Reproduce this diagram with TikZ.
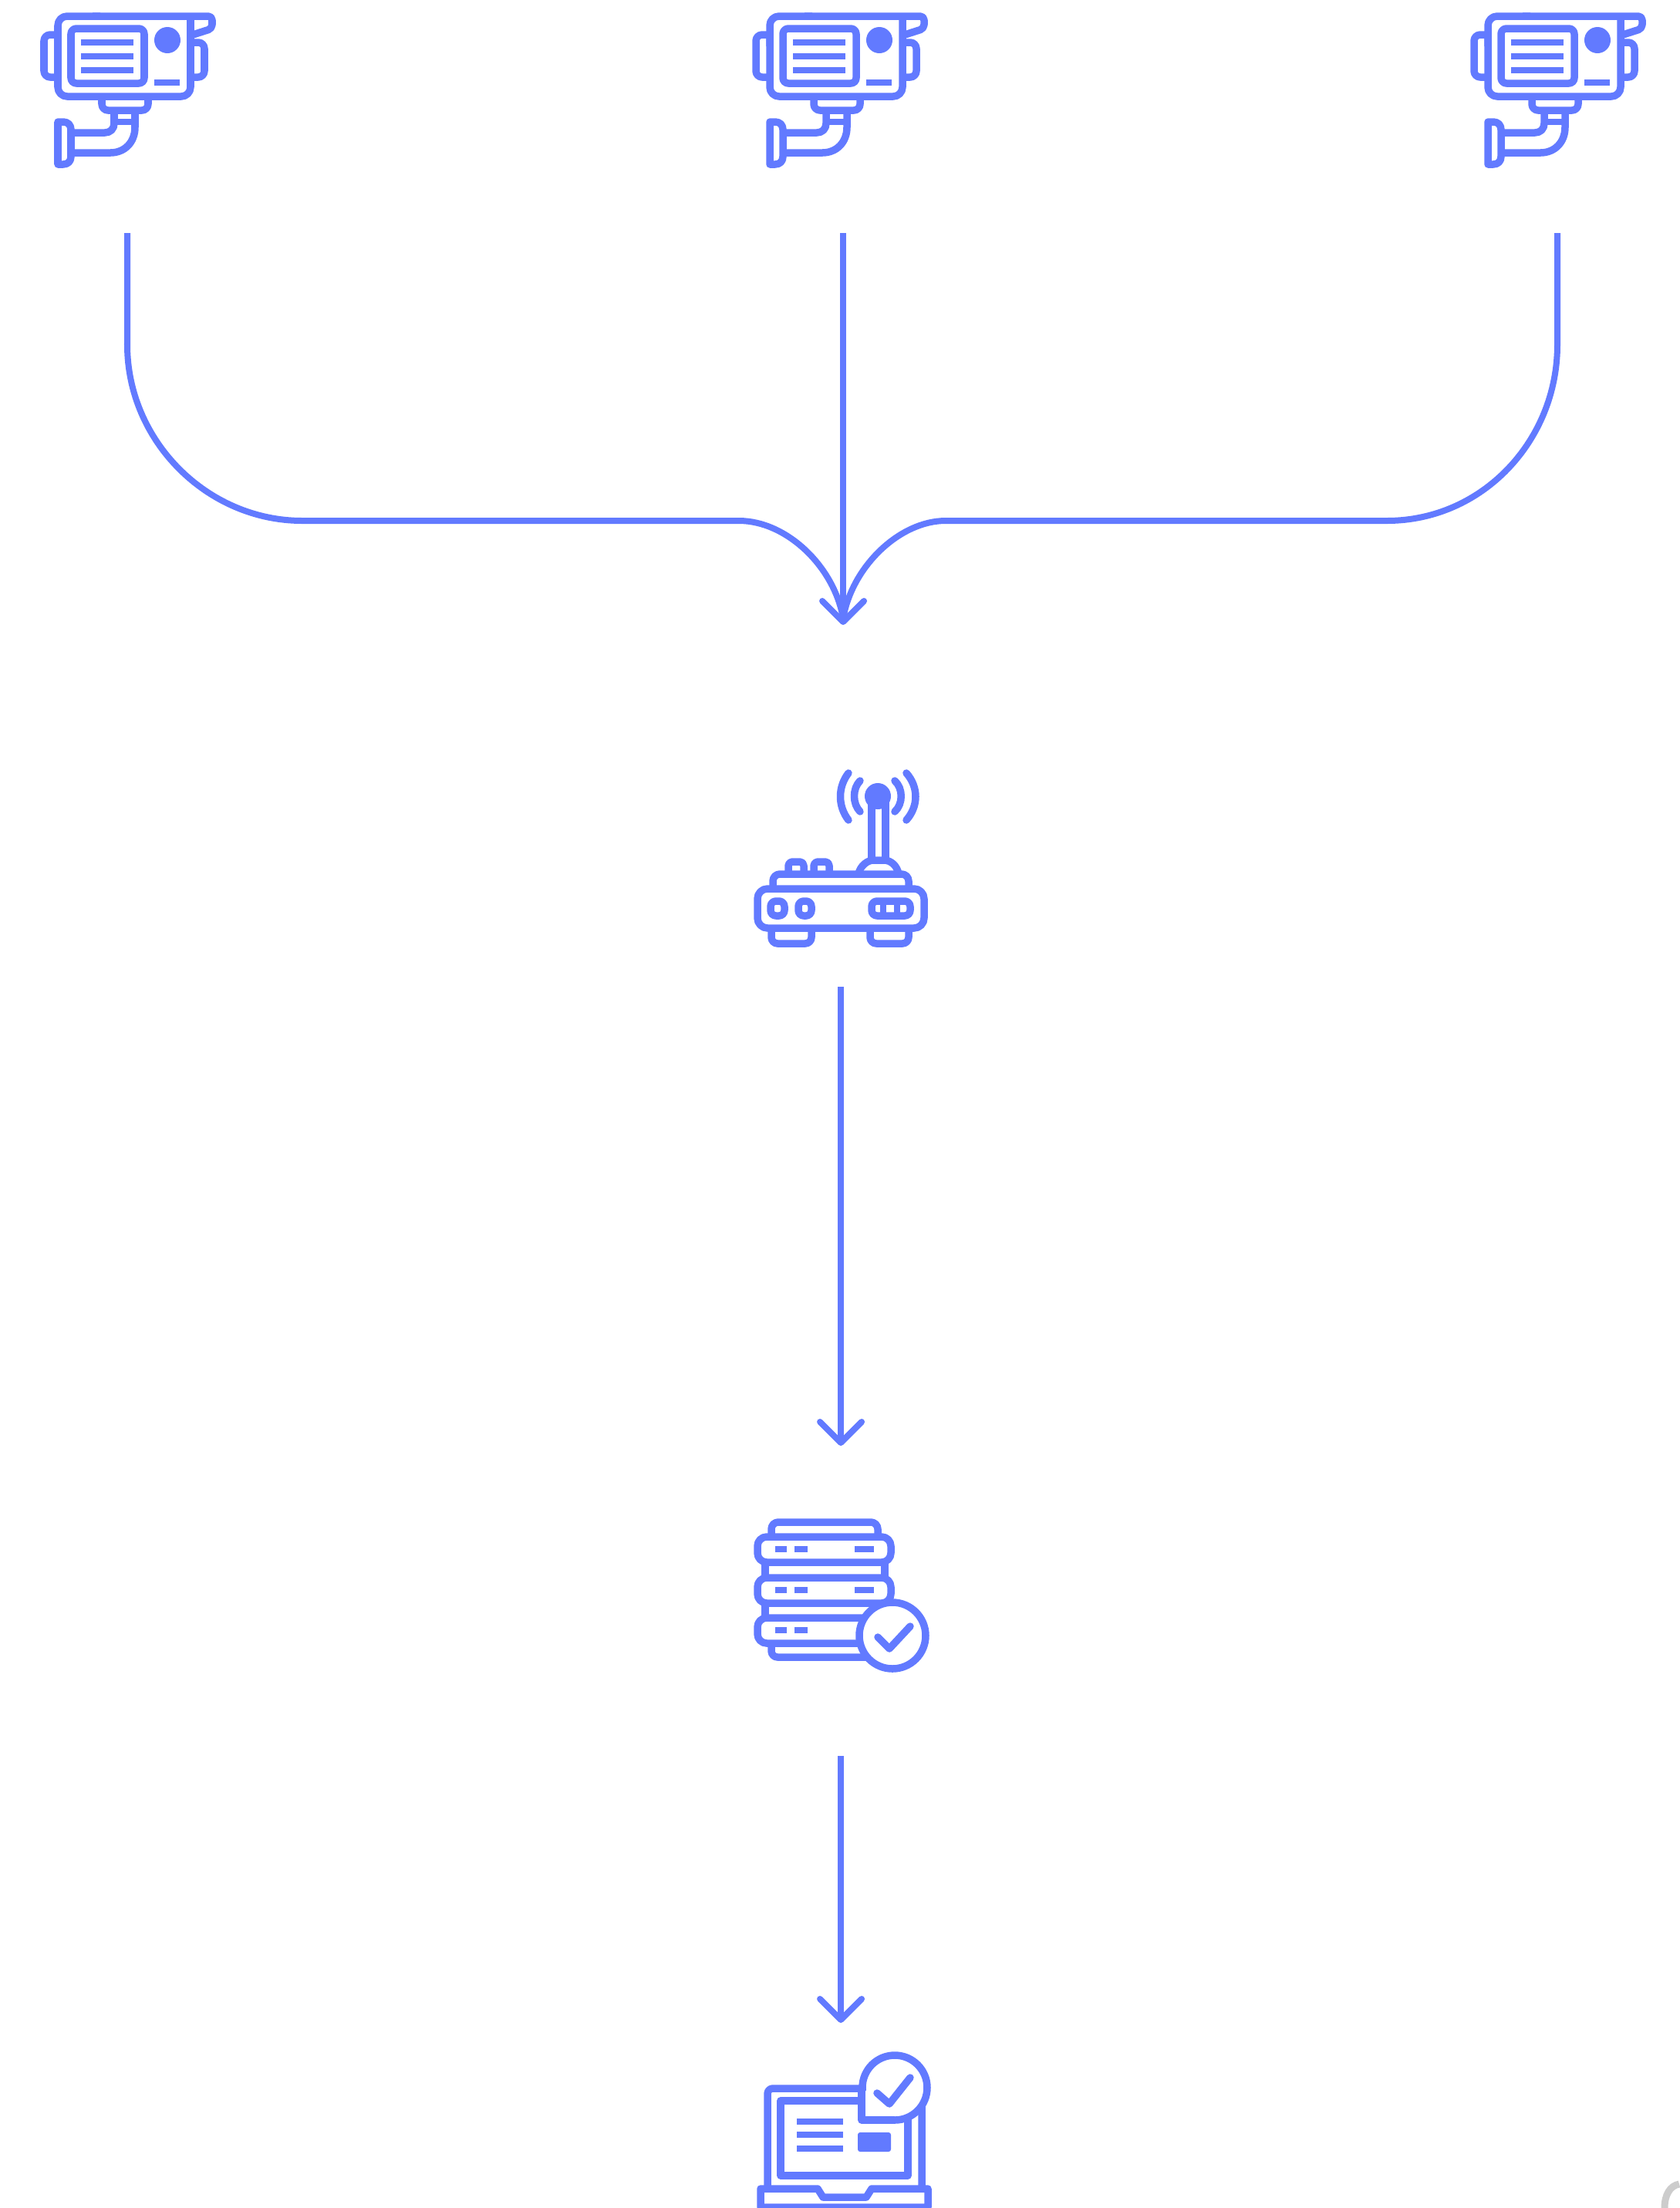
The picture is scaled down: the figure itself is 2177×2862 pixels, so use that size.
\documentclass[tikz,border=0pt]{standalone}
\usepackage{xcolor}
\usepackage{tikz}
\usetikzlibrary{positioning, arrows.meta, calc}

\definecolor{iconblue}{RGB}{98,122,255}

\tikzset{
    % Invisible box round an icon: its north and south carry the connectors
    iconbox/.style={
        anchor=north west,
        inner sep=0pt,
        outer sep=0pt
    },
    icon/.style={draw=iconblue, line width=0.095cm, line join=round},
    detail/.style={draw=iconblue, line width=0.085cm},
    link/.style={draw=iconblue, line width=0.08cm},
    tip/.style={-{Straight Barb[length=0.27cm, width=0.54cm, round]}},
    % ------------------------------------------
    % ICONS (coordinates local to the icon)
    % ------------------------------------------
    pics/camera/.style={code={
        \draw[icon, rounded corners=0.12cm] (45,60) -- (45,21) -- (100,21);
        \draw[icon, rounded corners=0.12cm] (45,50) -- (45,125) -- (217,125) -- (217,21);
        \draw[icon, rounded corners=0.05cm] (90,21) -- (245,21) -- (245,37) -- (217,46);
        \draw[icon, rounded corners=0.07cm] (62,37) rectangle (157,108);
        \foreach \y in {55,73,91} {
            \draw[detail] (75,\y) -- (143,\y);
        }
        \fill[iconblue] (187,52) circle[radius=17];
        \draw[detail] (170,107) -- (203,107);
        % Side handles
        \draw[icon, rounded corners=0.08cm] (45,45) -- (27,45) -- (27,100) -- (45,100);
        \draw[icon, rounded corners=0.08cm] (217,55) -- (235,55) -- (235,100) -- (217,100);
        % Mount and arm
        \draw[icon, rounded corners=0.08cm] (102,125) -- (102,143) -- (162,143) -- (162,125);
        \draw[icon] (118,143) -- (118,160) .. controls (118,167) and (113,172) .. (106,172) -- (62,172);
        \draw[icon] (145,143) -- (145,165) .. controls (145,184) and (132,198) .. (113,198) -- (62,198);
        \draw[detail] (118,158) -- (145,158);
        \draw[icon] (45,158) -- (52,158) .. controls (58,158) and (62,162) .. (62,168) -- (62,203) .. controls (62,209) and (58,213) .. (52,213) -- (45,213) -- cycle;
    }},
    pics/router/.style={code={
        \draw[icon, rounded corners=0.13cm] (22,172) rectangle (238,223);
        \draw[icon, rounded corners=0.08cm] (40,223) -- (40,243) -- (92,243) -- (92,223);
        \draw[icon, rounded corners=0.08cm] (168,223) -- (168,243) -- (218,243) -- (218,223);
        \draw[icon, rounded corners=0.09cm] (42,172) -- (42,153) -- (218,153) -- (218,172);
        \draw[icon, rounded corners=0.05cm] (62,153) -- (62,137) -- (82,137) -- (82,153);
        \draw[icon, rounded corners=0.05cm] (95,153) -- (95,137) -- (115,137) -- (115,153);
        % Antenna
        \draw[icon] (153,153) .. controls (155,142) and (165,135) .. (172,135) -- (186,135) .. controls (195,135) and (203,142) .. (205,153);
        \draw[icon] (170,135) -- (170,60);
        \draw[icon] (188,135) -- (188,60);
        \fill[iconblue] (178,52) circle[radius=17];
        \draw[icon, line cap=round] (155,32) .. controls (145,42) and (145,62) .. (155,72);
        \draw[icon, line cap=round] (140,22) .. controls (126,40) and (126,65) .. (140,83);
        \draw[icon, line cap=round] (200,32) .. controls (211,42) and (211,62) .. (200,72);
        \draw[icon, line cap=round] (215,22) .. controls (231,40) and (231,65) .. (215,83);
        % Front panel
        \draw[icon, rounded corners=0.07cm] (39,188) rectangle (57,207);
        \draw[icon, rounded corners=0.07cm] (75,188) rectangle (92,207);
        \draw[icon, rounded corners=0.07cm] (170,188) rectangle (220,207);
        \draw[detail] (185,188) -- (185,207);
        \draw[detail] (203,188) -- (203,207);
    }},
    pics/server/.style={code={
        \draw[icon, rounded corners=0.09cm] (40,42) -- (40,23) -- (178,23) -- (178,42);
        \foreach \y in {42,95,147} {
            \draw[icon, rounded corners=0.12cm] (22,\y) rectangle (195,\y+33);
            \draw[detail] (45,\y+16) -- (60,\y+16);
            \draw[detail] (70,\y+16) -- (87,\y+16);
        }
        \draw[detail] (148,58) -- (173,58);
        \draw[detail] (148,111) -- (173,111);
        \draw[icon] (32,75) -- (32,95);
        \draw[icon] (187,75) -- (187,95);
        \draw[icon] (32,128) -- (32,147);
        \draw[icon] (187,128) -- (187,147);
        \draw[icon, rounded corners=0.08cm] (40,180) -- (40,198) -- (170,198);
        % Check badge
        \draw[icon, fill=white] (197,170) circle[radius=43];
        \draw[icon, line cap=round] (178,172) -- (193,187) -- (220,158);
    }},
    pics/laptop/.style={code={
        \draw[icon, rounded corners=0.07cm] (35,197) -- (35,67) -- (235,67) -- (235,197);
        \draw[icon] (52,83) rectangle (217,180);
        \foreach \y in {110,127,145} {
            \draw[detail] (73,\y) -- (133,\y);
        }
        \fill[iconblue, rounded corners=0.03cm] (152,124) rectangle (195,149);
        \draw[icon, fill=white] (26,197) -- (100,197) -- (107,208) -- (163,208) -- (170,197) -- (243,197) -- (243,221) -- (26,221) -- cycle;
        % Check badge
        \fill[white] (157,66) rectangle (200,108);
        \draw[icon, fill=white] (200,66) circle[radius=42];
        \fill[white] (160,70) rectangle (198,105);
        \draw[icon] (157,66) -- (157,108) -- (200,108);
        \draw[icon, line cap=round] (177,73) -- (193,87) -- (220,53);
    }}
}

\begin{document}
\begin{tikzpicture}[x=0.01cm, y=-0.01cm]

    \useasboundingbox (0,0) rectangle (2177,2862);

    % ==========================================
    % ICON BOXES
    % ==========================================
    \node[iconbox, minimum width=2.7cm, minimum height=3.02cm] (cam1) at (30,0) {};
    \node[iconbox, minimum width=2.8cm, minimum height=3.02cm] (cam2) at (953,0) {};
    \node[iconbox, minimum width=2.7cm, minimum height=3.02cm] (cam3) at (1884,0) {};
    \node[iconbox, minimum width=2.6cm, minimum height=4.69cm] (router) at (960,810) {};
    \node[iconbox, minimum width=2.6cm, minimum height=4.02cm] (server) at (960,1874) {};
    \node[iconbox, minimum width=2.6cm, minimum height=2.4cm] (laptop) at (960,2622) {};

    \pic at (30,0) {camera};
    \pic at (953,0) {camera};
    \pic at (1884,0) {camera};
    \pic at (960,980) {router};
    \pic at (960,1950) {server};
    \pic at (960,2640) {laptop};

    % ==========================================
    % CONNECTORS
    % ==========================================
    \coordinate (merge) at (cam2.south |- router.north);
    \coordinate (mergein) at ($(merge)+(0,-8)$);

    \draw[link] (cam1.south) -- (165,447)
        .. controls (165,571) and (268,675) .. (392,675)
        -- (958,675)
        .. controls (1020,675) and (1082,735) .. (mergein);
    \draw[link] (cam3.south) -- (2019,447)
        .. controls (2019,571) and (1922,675) .. (1798,675)
        -- (1226,675)
        .. controls (1166,675) and (1104,735) .. (mergein);
    \draw[link, tip] (cam2.south) -- (merge);

    \draw[link, tip] (router.south) -- (server.north);
    \draw[link, tip] (server.south) -- (laptop.north);

    % Corner mark
    \draw[draw=black!20, line width=0.09cm] (2158,2862) .. controls (2158,2845) and (2165,2833) .. (2177,2831);

\end{tikzpicture}
\end{document}
